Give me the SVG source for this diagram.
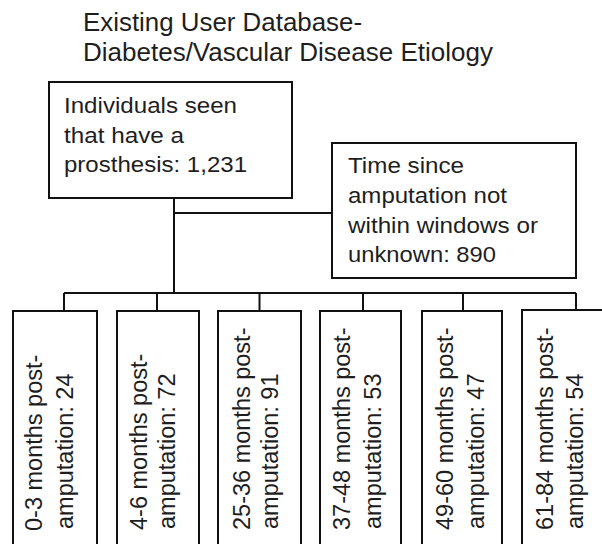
<svg xmlns="http://www.w3.org/2000/svg" width="602" height="544" viewBox="0 0 602 544">
<style>
  .box { fill: #ffffff; stroke: #111111; stroke-width: 2; }
  .conn { fill: none; stroke: #111111; stroke-width: 2; }
  .title { font-family: "Liberation Sans", Arial, sans-serif; font-size: 25px; fill: #1e1e1e; }
  .lbl { font-family: "Liberation Sans", Arial, sans-serif; font-size: 22px; fill: #1e1e1e; }
  .vlbl { font-family: "Liberation Sans", Arial, sans-serif; font-size: 23.5px; fill: #1e1e1e; }
</style>
<rect width="602" height="544" fill="#ffffff"/>
<g id="title">
  <text class="title" x="83" y="31" textLength="279" lengthAdjust="spacingAndGlyphs">Existing User Database-</text>
  <text class="title" x="83" y="61" textLength="410" lengthAdjust="spacingAndGlyphs">Diabetes/Vascular Disease Etiology</text>
</g>
<g id="connectors">
  <path class="conn" d="M174 198 V293"/>
  <path class="conn" d="M174 213 H332"/>
  <path class="conn" d="M64 293 H576"/>
  <path class="conn" d="M64 293 V311"/>
  <path class="conn" d="M157 293 V311"/>
  <path class="conn" d="M259.5 293 V311"/>
  <path class="conn" d="M363 293 V311"/>
  <path class="conn" d="M463 293 V311"/>
  <path class="conn" d="M576 293 V310"/>
</g>
<g id="node-total">
  <rect class="box" x="49" y="82" width="243" height="116"/>
  <text class="lbl" x="64" y="113" textLength="173" lengthAdjust="spacingAndGlyphs">Individuals  seen</text>
  <text class="lbl" x="64" y="143" textLength="120" lengthAdjust="spacingAndGlyphs">that have  a</text>
  <text class="lbl" x="64" y="172" textLength="183" lengthAdjust="spacingAndGlyphs">prosthesis: 1,231</text>
</g>
<g id="node-unknown">
  <rect class="box" x="332" y="143" width="244" height="135"/>
  <text class="lbl" x="348" y="173" textLength="116" lengthAdjust="spacingAndGlyphs">Time since</text>
  <text class="lbl" x="348" y="203" textLength="159" lengthAdjust="spacingAndGlyphs">amputation not</text>
  <text class="lbl" x="348" y="233" textLength="190" lengthAdjust="spacingAndGlyphs">within windows or</text>
  <text class="lbl" x="348" y="262" textLength="148" lengthAdjust="spacingAndGlyphs">unknown: 890</text>
</g>
<g id="node-0-3">
  <rect class="box" x="13" y="311" width="84" height="250"/>
  <text class="vlbl" transform="translate(42,531) rotate(-90)">0-3 months post-</text>
  <text class="vlbl" transform="translate(73,529) rotate(-90)">amputation: 24</text>
</g>
<g id="node-4-6">
  <rect class="box" x="117" y="311" width="82" height="250"/>
  <text class="vlbl" transform="translate(147,530) rotate(-90)">4-6 months post-</text>
  <text class="vlbl" transform="translate(175,529) rotate(-90)">amputation: 72</text>
</g>
<g id="node-25-36">
  <rect class="box" x="218" y="311" width="83" height="250"/>
  <text class="vlbl" transform="translate(250,530) rotate(-90)">25-36 months post-</text>
  <text class="vlbl" transform="translate(278,529) rotate(-90)">amputation: 91</text>
</g>
<g id="node-37-48">
  <rect class="box" x="320" y="311" width="81" height="250"/>
  <text class="vlbl" transform="translate(350,530) rotate(-90)">37-48 months post-</text>
  <text class="vlbl" transform="translate(381,529) rotate(-90)">amputation: 53</text>
</g>
<g id="node-49-60">
  <rect class="box" x="422" y="311" width="80" height="250"/>
  <text class="vlbl" transform="translate(453,530) rotate(-90)">49-60 months post-</text>
  <text class="vlbl" transform="translate(484,529) rotate(-90)">amputation: 47</text>
</g>
<g id="node-61-84">
  <rect class="box" x="522" y="310" width="120" height="250"/>
  <text class="vlbl" transform="translate(553,530) rotate(-90)">61-84 months post-</text>
  <text class="vlbl" transform="translate(583,529) rotate(-90)">amputation: 54</text>
</g>
</svg>
